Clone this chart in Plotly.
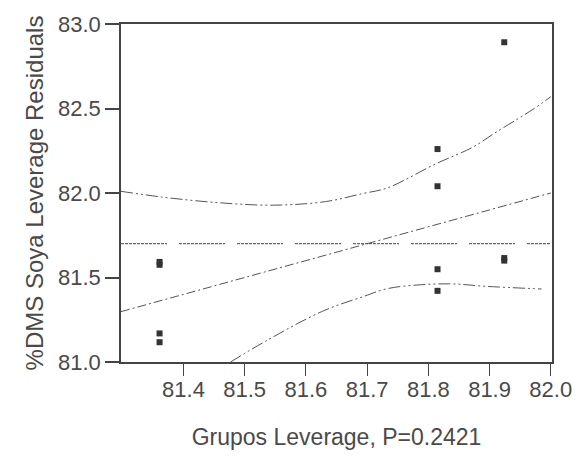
import plotly.graph_objects as go

# Data
pts_x = [81.361, 81.361, 81.361, 81.361, 81.815, 81.815, 81.815, 81.815, 81.924, 81.924, 81.924]
pts_y = [81.592, 81.575, 81.169, 81.117, 82.260, 82.040, 81.549, 81.421, 82.892, 81.615, 81.600]

fit_x = [81.298, 82.0]
fit_y = [81.298, 82.0]

mean_x = [81.298, 82.0]
mean_y = [81.7, 81.7]

upper_x = [81.298, 81.365, 81.456, 81.547, 81.632, 81.693, 81.733, 81.813, 81.872, 81.909, 81.973, 82.0]
upper_y = [82.010, 81.976, 81.943, 81.928, 81.949, 81.997, 82.030, 82.174, 82.270, 82.356, 82.500, 82.570]

lower_x = [81.477, 81.536, 81.627, 81.696, 81.733, 81.787, 81.840, 81.893, 81.985]
lower_y = [81.000, 81.127, 81.300, 81.390, 81.434, 81.457, 81.462, 81.448, 81.432]

x_ticks = [81.4, 81.5, 81.6, 81.7, 81.8, 81.9, 82.0]
y_ticks = [81.0, 81.5, 82.0, 82.5, 83.0]

FONT = "Liberation Sans, Arial, sans-serif"
TXT = "#4a4a4a"
LINE = "#555555"

fig = go.Figure()

fig.add_trace(go.Scatter(x=mean_x, y=mean_y, mode="lines",
                         line=dict(color="#444444", width=1,
                                   dash="3px,1px,3px,1px,3px,1px,3px,1px,3px,1px,3px,1px,3px,1px,3px,1px,3px,1px,3px,1px,3px,1px,2px,12px"),
                         hoverinfo="skip", showlegend=False))
fig.add_trace(go.Scatter(x=fit_x, y=fit_y, mode="lines",
                         line=dict(color=LINE, width=1, dash="9px,3px,2px,3px"),
                         hoverinfo="skip", showlegend=False))
fig.add_trace(go.Scatter(x=upper_x, y=upper_y, mode="lines",
                         line=dict(color=LINE, width=1, dash="12px,3px,2px,3px,2px,3px", shape="spline", smoothing=1.0),
                         hoverinfo="skip", showlegend=False))
fig.add_trace(go.Scatter(x=lower_x, y=lower_y, mode="lines",
                         line=dict(color=LINE, width=1, dash="12px,3px,2px,3px,2px,3px", shape="spline", smoothing=1.0),
                         hoverinfo="skip", showlegend=False))
fig.add_trace(go.Scatter(x=pts_x, y=pts_y, mode="markers",
                         marker=dict(symbol="square", size=6, color="#333333"),
                         showlegend=False))

fig.update_layout(
    width=584, height=463,
    margin=dict(l=121, r=22, t=15, b=101),
    paper_bgcolor="white", plot_bgcolor="white",
    font=dict(family=FONT, color=TXT, size=22),
    xaxis=dict(range=[81.298, 82.002], tickvals=x_ticks, ticktext=[f"{v:.1f}" for v in x_ticks],
               showgrid=False, zeroline=False, showline=True, linecolor="#444444", linewidth=1.5,
               mirror=True, ticks="outside", ticklen=12, tickwidth=1, tickcolor="#444444",
               tickfont=dict(size=22, family=FONT, color=TXT),
               title=dict(text="Grupos Leverage, P=0.2421", font=dict(size=23, family=FONT, color=TXT), standoff=28)),
    yaxis=dict(range=[81.0, 83.0], tickvals=y_ticks, ticktext=[f"{v:.1f}" for v in y_ticks],
               showgrid=False, zeroline=False, showline=True, linecolor="#444444", linewidth=1.5,
               mirror=True, ticks="outside", ticklen=14, tickwidth=2, tickcolor="#444444",
               tickfont=dict(size=22, family=FONT, color=TXT),
               title=dict(text="%DMS Soya Leverage Residuals", font=dict(size=24, family=FONT, color=TXT), standoff=8)),
)
fig.update_xaxes(ticklabelstandoff=-5)

fig.write_html("out.html")
